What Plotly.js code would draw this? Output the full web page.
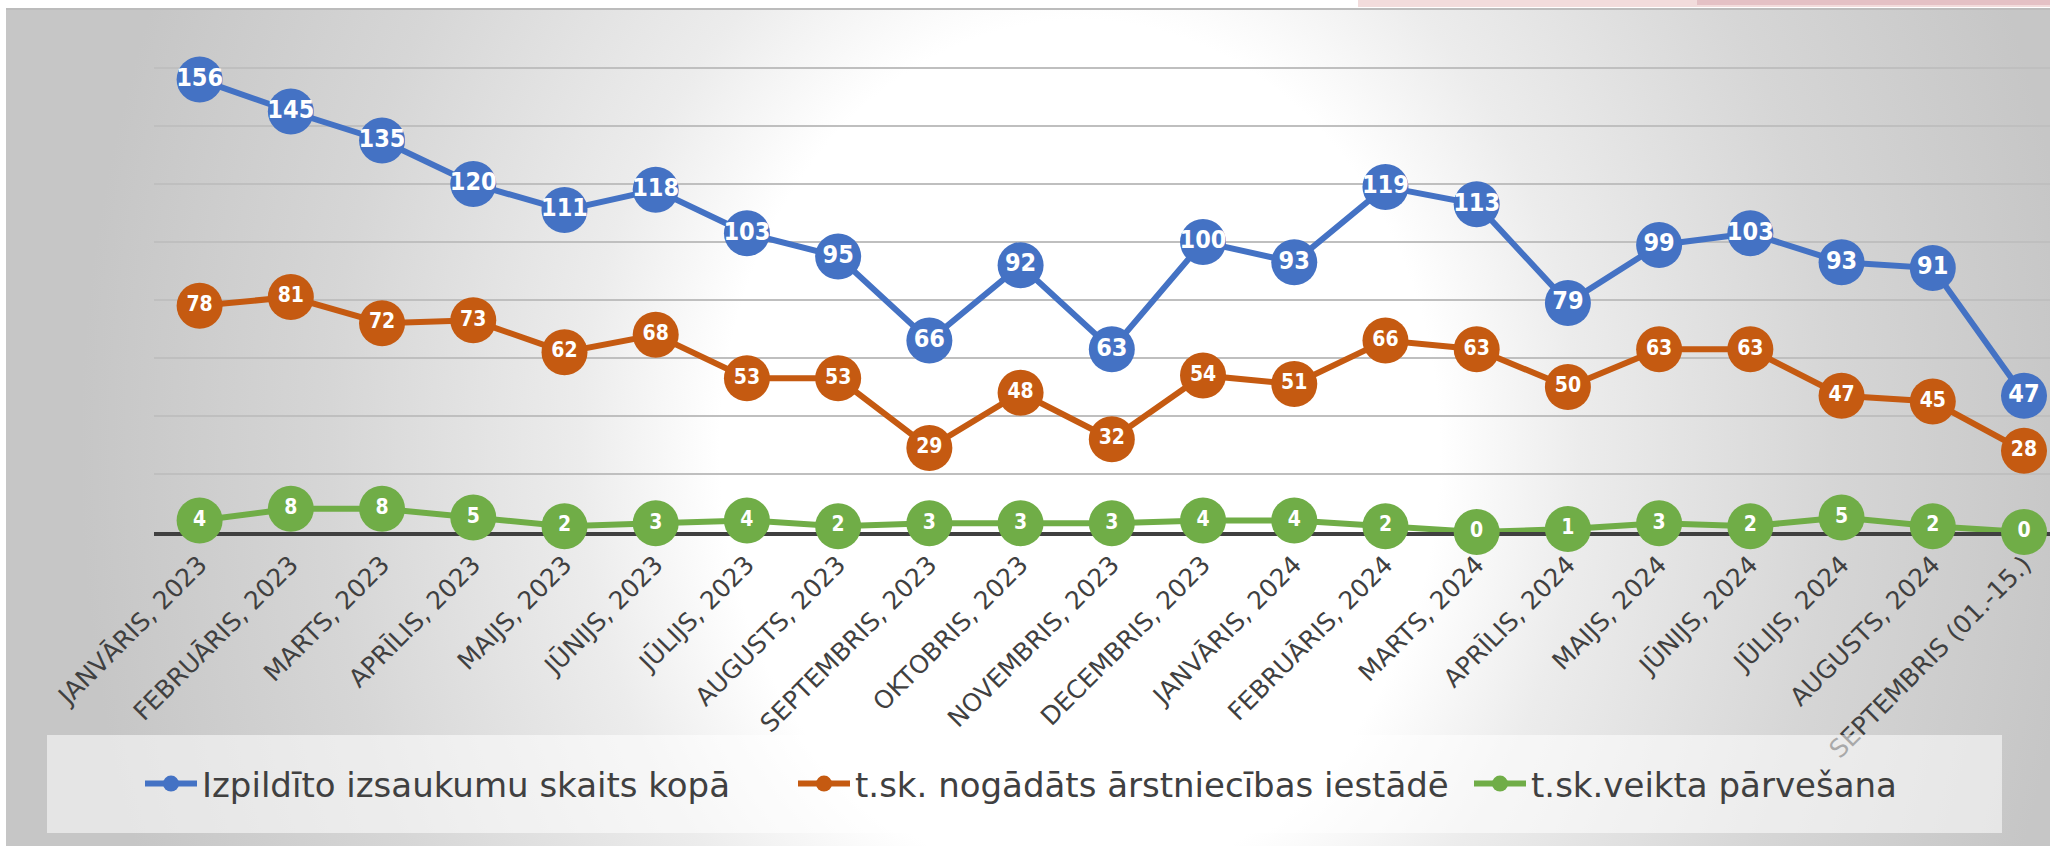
<!DOCTYPE html>
<html><head><meta charset="utf-8">
<script src="https://cdn.plot.ly/plotly-3.0.1.min.js"></script>
<style>
html,body{margin:0;padding:0;background:#fff;width:2050px;height:846px;overflow:hidden;}
#bg{position:absolute;left:6px;top:8px;width:2044px;height:838px;box-sizing:border-box;
 background:radial-gradient(1000px 1200px at 1074px 442px,#ffffff 0%,#ffffff 36%,#ececec 50%,#d6d6d6 75%,#c6c6c6 100%);
 border-top:2px solid #bcbcbc;}
#pink1{position:absolute;left:1358px;top:0;width:692px;height:7px;background:#f2dcdc;}
#pink2{position:absolute;left:1697px;top:0;width:353px;height:5px;background:#e4c1c5;}
#chart{position:absolute;left:0;top:0;width:2050px;height:846px;}
</style></head><body>
<div id="bg"></div><div id="pink1"></div><div id="pink2"></div>
<div id="chart"></div>
<script>
const categories = ["JANVĀRIS, 2023","FEBRUĀRIS, 2023","MARTS, 2023","APRĪLIS, 2023","MAIJS, 2023","JŪNIJS, 2023","JŪLIJS, 2023","AUGUSTS, 2023","SEPTEMBRIS, 2023","OKTOBRIS, 2023","NOVEMBRIS, 2023","DECEMBRIS, 2023","JANVĀRIS, 2024","FEBRUĀRIS, 2024","MARTS, 2024","APRĪLIS, 2024","MAIJS, 2024","JŪNIJS, 2024","JŪLIJS, 2024","AUGUSTS, 2024","SEPTEMBRIS (01.-15.)"];
const totalCalls = [156,145,135,120,111,118,103,95,66,92,63,100,93,119,113,79,99,103,93,91,47];
const toHospital = [78,81,72,73,62,68,53,53,29,48,32,54,51,66,63,50,63,63,47,45,28];
const transfers = [4,8,8,5,2,3,4,2,3,3,3,4,4,2,0,1,3,2,5,2,0];
const seriesNames = ["Izpildīto izsaukumu skaits kopā","t.sk. nogādāts ārstniecības iestādē","t.sk.veikta pārvešana"];
const seriesColors = ["#4472C4","#C55A11","#70AD47"];

const LBL_FONT = "'DejaVu Sans Condensed', 'DejaVu Sans', sans-serif";
const TXT_FONT = "'DejaVu Sans', sans-serif";

function lineTrace(y, i, legendId){
  return {type:'scatter', mode:'lines+markers', x:categories, y:y, name:seriesNames[i],
    line:{color:seriesColors[i], width:6}, marker:{color:seriesColors[i], size:46},
    cliponaxis:false, legend:legendId, hoverinfo:'x+y'};
}
function textTrace(y, i, fs){
  return {type:'scatter', mode:'text', x:categories, y:y, text:y.map(String),
    textposition:'middle center', showlegend:false, cliponaxis:false, hoverinfo:'skip',
    textfont:{family:LBL_FONT, size:fs, color:'#ffffff', weight:'bold'}};
}
const data = [
  lineTrace(totalCalls,0,'legend'), textTrace(totalCalls,0,25),
  lineTrace(toHospital,1,'legend2'), textTrace(toHospital,1,21),
  lineTrace(transfers,2,'legend3'), textTrace(transfers,2,21)
];
function leg(xpx){
  return {orientation:'h', xref:'container', yref:'container', x:xpx/2050, y:1-784/846,
    xanchor:'left', yanchor:'middle', bgcolor:'rgba(0,0,0,0)', borderwidth:0,
    font:{family:TXT_FONT, size:34, color:'#404040'}, itemwidth:52, itemsizing:'trace'};
}
const layout = {
  width:2050, height:846,
  paper_bgcolor:'rgba(0,0,0,0)', plot_bgcolor:'rgba(0,0,0,0)',
  margin:{l:154, r:0, t:10, b:314},
  showlegend:true,
  xaxis:{type:'category', range:[-0.5, 20.285], tickangle:-45,
    tickfont:{family:TXT_FONT, size:25, color:'#404040'}, ticklabelstandoff:4,
    showgrid:false, zeroline:false, showline:true, linecolor:'#404040', linewidth:4,
    ticks:'', layer:'below traces', fixedrange:true},
  yaxis:{range:[0,180], dtick:20, showticklabels:false, showgrid:true,
    gridcolor:'#bfbfbf', gridwidth:2, zeroline:false, showline:false, ticks:'', fixedrange:true},
  legend:leg(140), legend2:leg(793), legend3:leg(1469),
  shapes:[{type:'rect', xref:'paper', yref:'paper', layer:'above',
    x0:(47-154)/1896, x1:(2002-154)/1896, y0:(532-833)/522, y1:(532-735)/522,
    fillcolor:'rgba(255,255,255,0.55)', line:{width:0}}]
};
Plotly.newPlot('chart', data, layout, {displayModeBar:false, staticPlot:true});
</script>
</body></html>
